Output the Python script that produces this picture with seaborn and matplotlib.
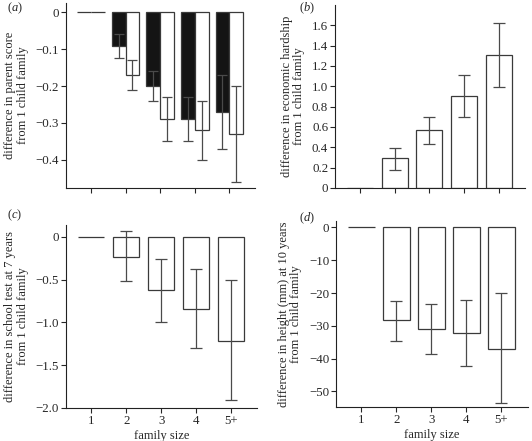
import matplotlib
matplotlib.use("Agg")
import matplotlib.pyplot as plt
import seaborn as sns
import pandas as pd

# family size categories
sizes = ['1', '2', '3', '4', '5+']

# (a) parent score, two groups (dark / light bars)
parent_dark = [0, -0.09, -0.20, -0.29, -0.27]
parent_dark_lo = [None, -0.125, -0.24, -0.35, -0.37]
parent_dark_hi = [None, -0.06, -0.16, -0.23, -0.17]
parent_light = [0, -0.17, -0.29, -0.32, -0.33]
parent_light_lo = [None, -0.21, -0.35, -0.40, -0.46]
parent_light_hi = [None, -0.13, -0.23, -0.24, -0.20]

# (b) economic hardship
hardship = [0, 0.29, 0.57, 0.90, 1.31]
hardship_lo = [None, 0.18, 0.43, 0.70, 0.99]
hardship_hi = [None, 0.39, 0.70, 1.11, 1.62]

# (c) school test at 7 years
school = [0, -0.23, -0.62, -0.84, -1.22]
school_lo = [None, -0.52, -1.00, -1.30, -1.91]
school_hi = [None, 0.07, -0.26, -0.37, -0.51]

# (d) height at 10 years (mm)
height = [0, -28.3, -31.0, -32.2, -37.0]
height_lo = [None, -34.5, -38.6, -42.3, -53.6]
height_hi = [None, -22.3, -23.2, -22.0, -20.0]

yticks_a = [0, -0.1, -0.2, -0.3, -0.4]
yticklabels_a = ['0', '\u22120.1', '\u22120.2', '\u22120.3', '\u22120.4']
yticks_b = [0, 0.2, 0.4, 0.6, 0.8, 1.0, 1.2, 1.4, 1.6]
yticklabels_b = ['0', '0.2', '0.4', '0.6', '0.8', '1.0', '1.2', '1.4', '1.6']
yticks_c = [0, -0.5, -1.0, -1.5, -2.0]
yticklabels_c = ['0', '\u22120.5', '\u22121.0', '\u22121.5', '\u22122.0']
yticks_d = [0, -10, -20, -30, -40, -50]
yticklabels_d = ['0', '\u221210', '\u221220', '\u221230', '\u221240', '\u221250']

sns.set_style("ticks")
plt.rcParams['font.family'] = ['Liberation Serif', 'DejaVu Serif']
plt.rcParams['mathtext.fontset'] = 'custom'
plt.rcParams['mathtext.rm'] = 'Liberation Serif'
plt.rcParams['mathtext.it'] = 'Liberation Serif:italic'
plt.rcParams['axes.linewidth'] = 0.8
plt.rcParams['xtick.major.size'] = 3.5
plt.rcParams['ytick.major.size'] = 3.5
plt.rcParams['xtick.major.width'] = 0.8
plt.rcParams['ytick.major.width'] = 0.8
plt.rcParams['xtick.major.pad'] = 1.5
plt.rcParams['ytick.major.pad'] = 1.5
plt.rcParams['axes.edgecolor'] = '#222222'

EDGE = '#3a3a3a'
ERR = '#4a4a4a'
TICK_FS = 9.3
LAB_FS = 9

fig = plt.figure(figsize=(5.32, 4.41), dpi=100)
ax_a = fig.add_axes([0.124, 0.574, 0.356, 0.419])
ax_b = fig.add_axes([0.630, 0.574, 0.356, 0.415])
ax_c = fig.add_axes([0.124, 0.075, 0.360, 0.415])
ax_d = fig.add_axes([0.632, 0.077, 0.360, 0.422])


def add_errors(ax, bars, lo, hi, cap):
    for bar, l, h in zip(bars, lo, hi):
        if l is None:
            continue
        x = bar.get_x() + bar.get_width() / 2
        y = bar.get_height()
        ax.errorbar([x], [y], yerr=[[y - l], [h - y]], fmt='none',
                    ecolor=ERR, elinewidth=0.9, capsize=cap, capthick=0.9)


def style(ax, yticks, yticklabels, ylim, ylabel, show_x):
    ax.set_ylim(*ylim)
    ax.set_xlim(-0.72, 4.75)
    ax.set_yticks(yticks)
    ax.set_yticklabels(yticklabels, fontsize=TICK_FS)
    ax.set_ylabel(ylabel, fontsize=LAB_FS, labelpad=5, linespacing=1.05)
    ax.set_xticks(range(len(sizes)))
    if show_x:
        ax.set_xticklabels(sizes, fontsize=TICK_FS)
        ax.set_xlabel('family size', fontsize=LAB_FS, labelpad=2)
    else:
        ax.set_xticklabels([])
        ax.set_xlabel('')
    sns.despine(ax=ax)


# (a)
df_a = pd.DataFrame({
    'size': sizes * 2,
    'value': parent_dark + parent_light,
    'group': ['dark'] * len(sizes) + ['light'] * len(sizes),
})
sns.barplot(data=df_a, x='size', y='value', hue='group', ax=ax_a,
            palette={'dark': '#141414', 'light': 'white'}, edgecolor=EDGE,
            linewidth=0.9, width=0.8, errorbar=None, legend=False)
add_errors(ax_a, ax_a.containers[0], parent_dark_lo, parent_dark_hi, 3.3)
add_errors(ax_a, ax_a.containers[1], parent_light_lo, parent_light_hi, 3.3)
style(ax_a, yticks_a, yticklabels_a, (-0.476, 0.025),
      'difference in parent score\nfrom 1 child family', False)

# (b), (c), (d)
panels = [
    (ax_b, hardship, hardship_lo, hardship_hi, yticks_b, yticklabels_b, (0, 1.8),
     'difference in economic hardship\nfrom 1 child family', False),
    (ax_c, school, school_lo, school_hi, yticks_c, yticklabels_c, (-2.0, 0.14),
     'difference in school test at 7 years\nfrom 1 child family', True),
    (ax_d, height, height_lo, height_hi, yticks_d, yticklabels_d, (-54.8, 2.0),
     'difference in height (mm) at 10 years\nfrom 1 child family', True),
]
for ax, vals, lo, hi, yt, ytl, ylim, ylab, show_x in panels:
    df = pd.DataFrame({'size': sizes, 'value': vals})
    sns.barplot(data=df, x='size', y='value', ax=ax, color='white',
                edgecolor=EDGE, linewidth=0.9, width=0.75, errorbar=None)
    add_errors(ax, ax.containers[0], lo, hi, 4.5)
    style(ax, yt, ytl, ylim, ylab, show_x)

# panel letters
for txt, x, y in [('a', 0.013, 0.982), ('b', 0.562, 0.982),
                  ('c', 0.013, 0.512), ('d', 0.562, 0.505)]:
    fig.text(x, y, '(' + '$\\mathit{' + txt + '}$' + ')', fontsize=LAB_FS,
             va='center')

plt.savefig('out.png', dpi=100)
